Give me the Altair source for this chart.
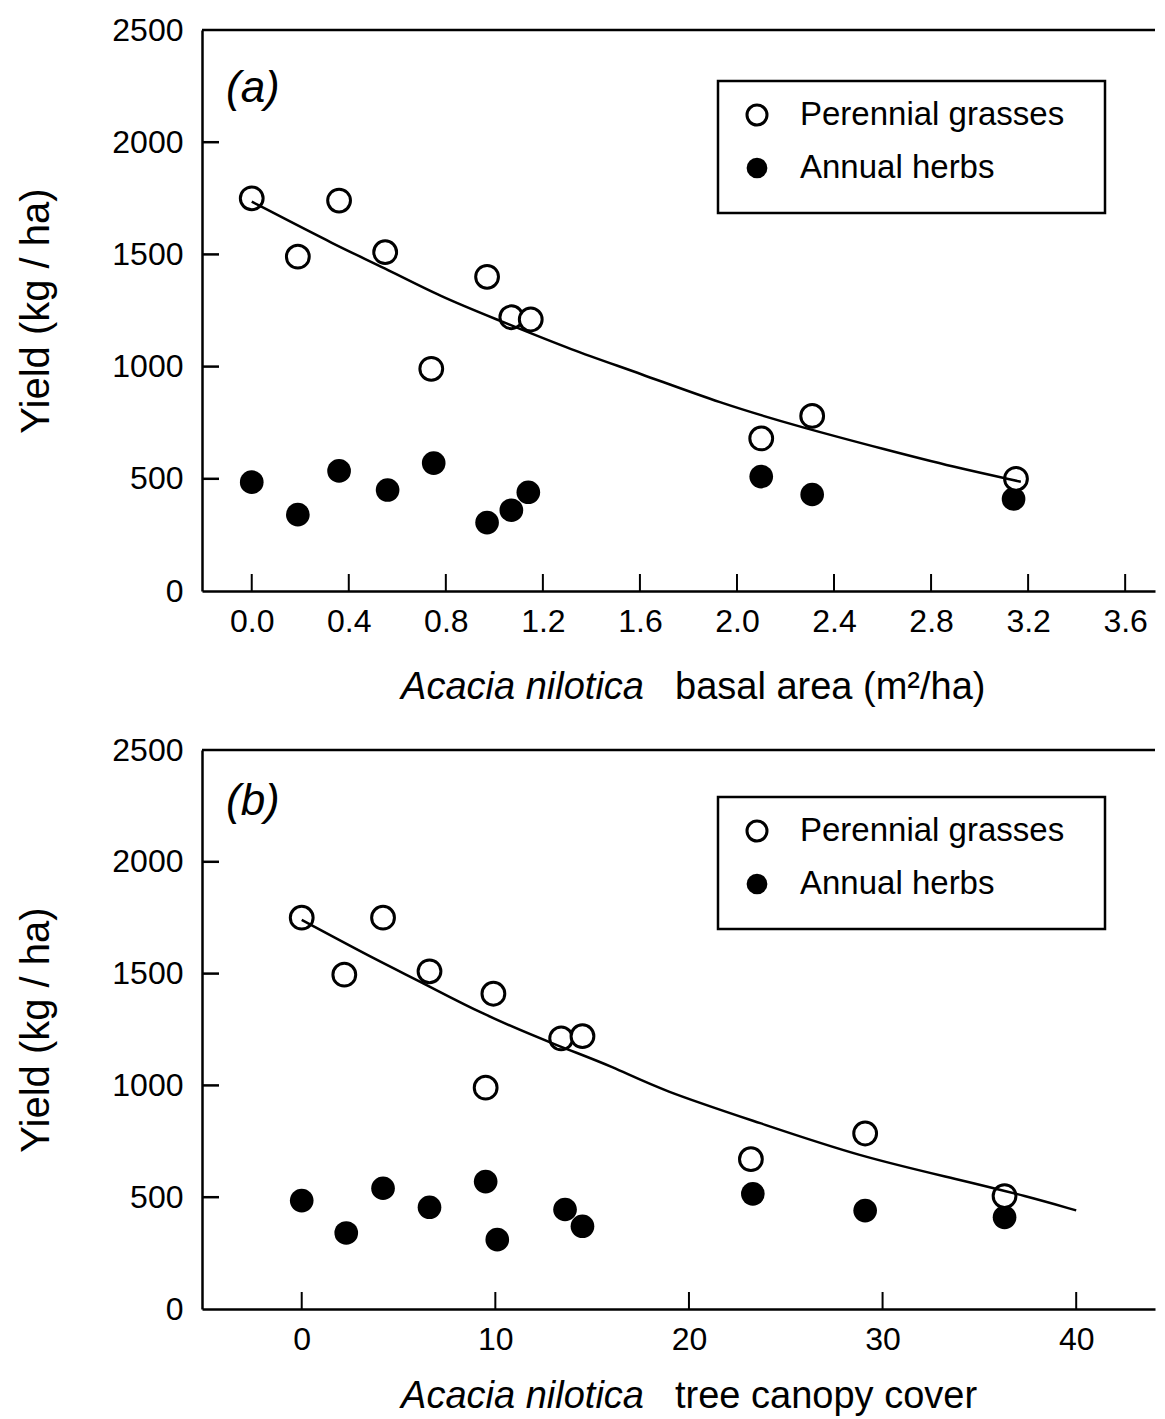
import altair as alt
import pandas as pd

FONT = "Liberation Sans"
SERIES = ["Perennial grasses", "Annual herbs"]
Y_TICKS = [0, 500, 1000, 1500, 2000, 2500]
Y_TICKS_INNER = [500, 1000, 1500, 2000]

# Panel (a): Acacia nilotica basal area (m2/ha)
A_PER_X = [0.0, 0.19, 0.36, 0.55, 0.97, 0.74, 1.07, 1.15, 2.10, 2.31, 3.15]
A_PER_Y = [1750, 1490, 1740, 1510, 1400, 990, 1220, 1210, 680, 780, 500]
A_ANN_X = [0.0, 0.19, 0.36, 0.56, 0.75, 0.97, 1.07, 1.14, 2.10, 2.31, 3.14]
A_ANN_Y = [485, 340, 535, 450, 570, 305, 360, 440, 510, 430, 410]
A_FIT_X = [0.0, 0.36, 0.54, 0.78, 1.02, 1.32, 1.60, 1.93, 2.26, 2.62, 2.89, 3.17]
A_FIT_Y = [1735, 1533, 1444, 1310, 1206, 1073, 970, 837, 731, 628, 553, 487]
A_XTICKS = [0.0, 0.4, 0.8, 1.2, 1.6, 2.0, 2.4, 2.8, 3.2, 3.6]

# Panel (b): Acacia nilotica tree canopy cover
B_PER_X = [0.0, 2.2, 4.2, 6.6, 9.9, 9.5, 13.4, 14.5, 23.2, 29.1, 36.3]
B_PER_Y = [1750, 1495, 1750, 1510, 1410, 990, 1210, 1220, 670, 785, 505]
B_ANN_X = [0.0, 2.3, 4.2, 6.6, 9.5, 10.1, 13.6, 14.5, 23.3, 29.1, 36.3]
B_ANN_Y = [485, 340, 540, 455, 570, 310, 445, 370, 515, 440, 410]
B_FIT_X = [0.0, 4.0, 6.3, 9.2, 13.3, 16.1, 18.5, 23.7, 28.8, 34.0, 37.5, 40.0]
B_FIT_Y = [1740, 1554, 1457, 1323, 1174, 1084, 980, 831, 682, 578, 503, 441]
B_XTICKS = [0, 10, 20, 30, 40]

W = 953


def panel(per_x, per_y, ann_x, ann_y, fit_x, fit_y, xdom, xticks, xfmt,
          tag, tag_y, xtitle_rest, h, leg_top, title_off):
    xscale = alt.Scale(domain=xdom, nice=False, zero=False)
    yscale = alt.Scale(domain=[0, 2500], nice=False, zero=False)
    xaxis = alt.Axis(values=xticks, format=xfmt, title=None, ticks=False, tickSize=0,
                     labelPadding=15, labelFontSize=32, labelFont=FONT, labelColor="black",
                     domainColor="black", domainWidth=2.5, grid=False,
                     labelFlush=False, labelOverlap=False)
    yaxis = alt.Axis(values=Y_TICKS, format="d", title="Yield (kg / ha)", ticks=False, tickSize=0,
                     labelPadding=19, labelFontSize=32, labelFont=FONT, labelColor="black",
                     domainColor="black", domainWidth=2.5, grid=False, labelOverlap=False,
                     titleX=-166, titleY=h / 2, titleAngle=270, titleBaseline="middle",
                     titleAlign="center", titleFont=FONT, titleFontSize=40,
                     titleFontWeight="normal", titleColor="black")

    def X(f):
        return alt.X(f, type="quantitative", scale=xscale, axis=xaxis)

    def Y(f):
        return alt.Y(f, type="quantitative", scale=yscale, axis=yaxis)

    per = pd.DataFrame({"x": per_x, "y": per_y})
    ann = pd.DataFrame({"x": ann_x, "y": ann_y})
    fit = pd.DataFrame({"x": fit_x, "y": fit_y})
    one = pd.DataFrame({"k": [0]})

    ann_l = alt.Chart(ann).mark_point(shape="circle", filled=True, size=560, color="black",
                                      opacity=1).encode(x=X("x"), y=Y("y"))
    per_l = alt.Chart(per).mark_point(shape="circle", filled=True, size=520, fill="white",
                                      stroke="black", strokeWidth=3, opacity=1,
                                      fillOpacity=1).encode(x=X("x"), y=Y("y"))
    fit_l = alt.Chart(fit).mark_line(color="black", strokeWidth=2.5,
                                     interpolate="basis").encode(x=X("x"), y=Y("y"))

    ytick = alt.Chart(pd.DataFrame({"t": Y_TICKS_INNER})).mark_rule(
        color="black", strokeWidth=2.5).encode(y=Y("t"), x=alt.value(0), x2=alt.value(17))
    xtick = alt.Chart(pd.DataFrame({"t": xticks})).mark_rule(
        color="black", strokeWidth=2).encode(x=X("t"), y=alt.value(h), y2=alt.value(h - 17))
    top = alt.Chart(one).mark_rule(color="black", strokeWidth=2.5).encode(
        x=alt.value(0), x2=alt.value(W), y=alt.value(0))

    tag_l = alt.Chart(one).mark_text(text=tag, font=FONT, fontStyle="italic", fontSize=44,
                                     align="left", baseline="alphabetic", color="black").encode(
        x=alt.value(24), y=alt.value(tag_y))

    t1 = alt.Chart(one).mark_text(text="Acacia nilotica", font=FONT, fontStyle="italic",
                                  fontSize=38, align="right", baseline="alphabetic",
                                  color="black").encode(x=alt.value(442), y=alt.value(h + title_off))
    t2 = alt.Chart(one).mark_text(text=xtitle_rest, font=FONT, fontSize=38, align="left",
                                  baseline="alphabetic", color="black").encode(
        x=alt.value(473), y=alt.value(h + title_off))

    box = alt.Chart(one).mark_rect(fill="white", stroke="black", strokeWidth=2.5).encode(
        x=alt.value(516), x2=alt.value(903), y=alt.value(leg_top), y2=alt.value(leg_top + 132))
    s1 = alt.Chart(one).mark_point(shape="circle", filled=True, size=400, fill="white",
                                   stroke="black", strokeWidth=3, opacity=1).encode(
        x=alt.value(555), y=alt.value(leg_top + 34))
    s2 = alt.Chart(one).mark_point(shape="circle", filled=True, size=430, color="black",
                                   opacity=1).encode(x=alt.value(555), y=alt.value(leg_top + 87))
    l1 = alt.Chart(one).mark_text(text=SERIES[0], font=FONT, fontSize=33, align="left",
                                  baseline="middle", color="black").encode(
        x=alt.value(598), y=alt.value(leg_top + 34))
    l2 = alt.Chart(one).mark_text(text=SERIES[1], font=FONT, fontSize=33, align="left",
                                  baseline="middle", color="black").encode(
        x=alt.value(598), y=alt.value(leg_top + 87))

    return alt.layer(ytick, xtick, top, ann_l, per_l, fit_l, tag_l, t1, t2,
                     box, s1, s2, l1, l2).properties(width=W, height=h)


pa = panel(A_PER_X, A_PER_Y, A_ANN_X, A_ANN_Y, A_FIT_X, A_FIT_Y, [-0.205, 3.723], A_XTICKS,
           ".1f", "(a)", 72, "basal area (m\u00b2/ha)", 561, 51, 108)
pb = panel(B_PER_X, B_PER_Y, B_ANN_X, B_ANN_Y, B_FIT_X, B_FIT_Y, [-5.15, 44.07], B_XTICKS,
           "d", "(b)", 65, "tree canopy cover", 559, 47, 99)

chart = alt.vconcat(pa, pb, spacing=159, bounds="flush").properties(
    padding={"left": 8, "top": 6, "right": 0, "bottom": 0}
).configure_view(stroke=None)

chart.save("out.html", embed_options={"renderer": "svg", "actions": False})
